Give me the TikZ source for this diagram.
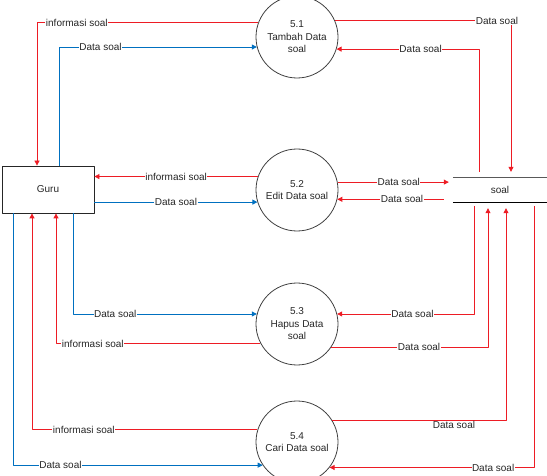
\documentclass[tikz,border=0pt]{standalone}
\usepackage{fontspec}
\setmainfont{Liberation Sans}
\usetikzlibrary{arrows.meta}
\definecolor{flowred}{RGB}{237,28,36}
\definecolor{flowblue}{RGB}{0,112,192}

\begin{document}
\begin{tikzpicture}[x=1pt, y=-1pt, line join=bevel,
        procnode/.style={shape=circle, draw=black!75, line width=0.8pt, minimum size=82pt, inner sep=0pt, align=center, text=black!85, font=\fontsize{10}{12.5}\selectfont},
        entitynode/.style={shape=rectangle, draw=black!85, line width=0.8pt, minimum width=92pt, minimum height=47pt, text=black!85, font=\fontsize{10}{12}\selectfont},
        storenode/.style={shape=rectangle, minimum width=94pt, minimum height=24pt, inner sep=0pt, text=black!85, font=\fontsize{10}{12}\selectfont},
        redflow/.style={flowred, line width=0.8pt, -{Triangle[length=5pt,width=5pt]}},
        blueflow/.style={flowblue, line width=0.8pt, -{Triangle[length=5pt,width=5pt]}},
        flowlabel/.style={fill=white, inner sep=0.5pt, text=black!85, font=\fontsize{10}{12}\selectfont}]
        \useasboundingbox (0,0) rectangle (547,476);
        \clip (0,0) rectangle (547,476);
        % Processes, entity and store
        \node[procnode] (p1) at (297,37) {5.1\\Tambah Data\\soal};
        \node[procnode] (p2) at (297,190) {5.2\\Edit Data soal};
        \node[procnode] (p3) at (297,324) {5.3\\Hapus Data\\soal};
        \node[procnode] (p4) at (297,442) {5.4\\Cari Data soal};
        \node[entitynode] (guru) at (48,189.5) {Guru};
        \node[storenode] (soal) at (500,190) {soal};
        \draw[line width=0.9pt, black!65] (soal.north west) -- (soal.north east);
        \draw[line width=0.8pt, black] (soal.south west) -- (soal.south east);
        % Lanes on Guru and soal
        \foreach \n/\dx in {gA/-11, gB/11} \coordinate (\n) at ([xshift=\dx pt]guru.north);
        \foreach \n/\dx in {gC/25, gD/8, gE/-16, gF/-35} \coordinate (\n) at ([xshift=\dx pt]guru.south);
        \foreach \n/\dx in {sA/-21, sB/11} \coordinate (\n) at ([xshift=\dx pt]soal.north);
        \foreach \n/\dx in {sC/-26, sD/-12, sE/6, sF/34} \coordinate (\n) at ([xshift=\dx pt]soal.south);
        % 5.1
        \draw[redflow] (p1.160) -- node[flowlabel, pos=.82] {informasi soal} (p1.160 -| gA) -- (gA);
        \draw[blueflow] (gB) -- (gB |- p1.194) -- node[flowlabel, pos=.21] {Data soal} (p1.194);
        \draw[redflow, shorten >=6pt] (p1.23) -- node[flowlabel, pos=.92] {Data soal} (p1.23 -| sB) -- (sB);
        \draw[redflow, shorten <=6pt] (sA) -- (sA |- p1.343) -- node[flowlabel, pos=.41] {Data soal} (p1.343);
        % 5.2
        \draw[redflow] (p2.161) -- node[flowlabel] {informasi soal} (p2.161 -| guru.east);
        \draw[blueflow] (guru.east |- p2.197) -- node[flowlabel] {Data soal} (p2.197);
        \draw[redflow, shorten >=4pt] (p2.11) -- node[flowlabel, pos=.53] {Data soal} (p2.11 -| soal.west);
        \draw[redflow, shorten <=9pt] (soal.west |- p2.347) -- node[flowlabel, pos=.44] {Data soal} (p2.347);
        % 5.3
        \draw[blueflow] (gC) -- (gC |- p3.166) -- node[flowlabel, pos=.23] {Data soal} (p3.166);
        \draw[redflow] (p3.208) -- node[flowlabel, pos=.82] {informasi soal} (p3.208 -| gD) -- (gD);
        \draw[redflow, shorten <=4pt] (sC) -- (sC |- p3.14) -- node[flowlabel, pos=.45] {Data soal} (p3.14);
        \draw[redflow, shorten >=6pt] (p3.326) -- node[flowlabel, pos=.56] {Data soal} (p3.326 -| sD) -- (sD);
        % 5.4
        \draw[redflow] (p4.163) -- node[flowlabel, pos=.77] {informasi soal} (p4.163 -| gE) -- (gE);
        \draw[blueflow] (gF) -- (gF |- p4.214) -- node[flowlabel, pos=.19] {Data soal} (p4.214);
        \draw[redflow, shorten >=6pt] (p4.31) -- node[flowlabel, pos=.70, yshift=-4pt] {Data soal} (p4.31 -| sE) -- (sE);
        \draw[redflow, shorten <=4pt] (sF) -- (sF |- p4.322) -- node[flowlabel, pos=.2] {Data soal} (p4.322);
\end{tikzpicture}
\end{document}
